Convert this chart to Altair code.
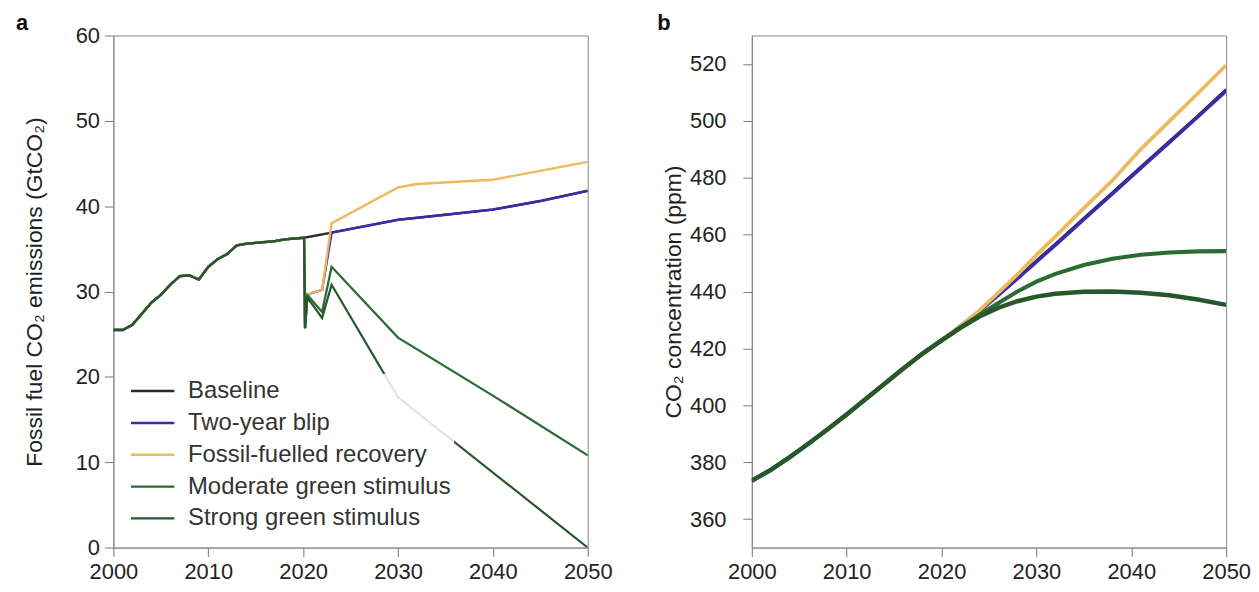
import altair as alt
import pandas as pd

# ---------------- data ----------------
series_names = ["Baseline", "Two-year blip", "Fossil-fuelled recovery",
                "Moderate green stimulus", "Strong green stimulus"]
series_colors = ["#2b2b2b", "#3b2bb0", "#f0b85c", "#2c6b33", "#26582c"]
panel_labels = ["a", "b"]
x_ticks = [2000, 2010, 2020, 2030, 2040, 2050]
y_ticks_a = [0, 10, 20, 30, 40, 50, 60]
y_ticks_b = [360, 380, 400, 420, 440, 460, 480, 500, 520]

# panel a: fossil CO2 emissions (GtCO2)
hist_years = [2000, 2001, 2002, 2003, 2004, 2005, 2006, 2007, 2008, 2009,
              2010, 2011, 2012, 2013, 2014, 2015, 2016, 2017, 2018, 2019]
hist_emis = [25.5, 25.5, 26.1, 27.4, 28.7, 29.6, 30.8, 31.8, 31.9, 31.4,
             32.9, 33.8, 34.4, 35.4, 35.6, 35.7, 35.8, 35.9, 36.1, 36.2]

base_em_years = [2020.1, 2023.0, 2030, 2035, 2040, 2045, 2050]
base_em = [36.3, 36.9, 38.4, 39.0, 39.6, 40.6, 41.8]

blip_em_years = [2020.1, 2020.2, 2020.45, 2020.8, 2022.0, 2023.0, 2030, 2035, 2040, 2045, 2050]
blip_em = [36.3, 25.7, 29.5, 29.8, 30.2, 36.9, 38.4, 39.0, 39.6, 40.6, 41.8]

fossil_em_years = [2020.1, 2020.2, 2020.45, 2020.8, 2022.0, 2023.0, 2030, 2032, 2040, 2050]
fossil_em = [36.3, 25.7, 29.5, 29.8, 30.2, 38.0, 42.2, 42.6, 43.1, 45.2]

moderate_em_years = [2020.1, 2020.2, 2020.45, 2022.0, 2023.0, 2030, 2040, 2050]
moderate_em = [36.3, 25.7, 29.6, 27.6, 32.9, 24.6, 17.8, 10.8]

strong_em_years = [2020.1, 2020.2, 2020.45, 2022.0, 2023.0, 2030, 2050]
strong_em = [36.3, 25.7, 29.3, 26.9, 30.8, 17.6, 0.0]

# panel b: CO2 concentration (ppm)
conc_hist_years = [2000, 2002, 2004, 2006, 2008, 2010, 2012, 2014, 2016, 2018, 2020]
conc_hist = [373.5, 377.3, 381.8, 386.6, 391.6, 396.8, 402.2, 407.6, 413.0, 418.2, 422.8]

conc_future_years = [2022, 2024, 2026, 2028, 2030, 2032, 2035, 2038, 2041, 2044, 2047, 2050]
base_conc = [428.0, 433.3, 439.0, 444.8, 450.8, 456.7, 465.7, 474.7, 483.7, 492.7, 501.7, 511.0]
blip_conc = [427.8, 433.0, 438.7, 444.5, 450.4, 456.3, 465.3, 474.3, 483.3, 492.3, 501.3, 510.5]
fossil_conc = [427.8, 433.4, 439.6, 446.0, 452.8, 459.4, 469.3, 479.0, 490.0, 499.8, 509.6, 519.5]
moderate_conc = [427.4, 431.8, 436.0, 440.0, 443.5, 446.2, 449.3, 451.5, 452.9, 453.7, 454.1, 454.2]
strong_conc = [427.2, 431.2, 434.3, 436.6, 438.2, 439.2, 439.9, 440.0, 439.6, 438.7, 437.2, 435.3]

width_a = [2.5, 2.2, 3.0, 3.0, 3.0]
width_b = [3.0, 4.5, 2.5, 3.0, 3.0]

# ---------------- tables ----------------
em_future = [(base_em_years, base_em), (blip_em_years, blip_em), (fossil_em_years, fossil_em),
             (moderate_em_years, moderate_em), (strong_em_years, strong_em)]
rows_a = []
for i, (name, (fy, fv)) in enumerate(zip(series_names, em_future)):
    ys = hist_years + fy
    vs = hist_emis + fv
    for j, (yr, v) in enumerate(zip(ys, vs)):
        rows_a.append({"series": name, "year": yr, "value": v, "idx": j, "draw": i})
df_a = pd.DataFrame(rows_a)

conc_future = [base_conc, blip_conc, fossil_conc, moderate_conc, strong_conc]
rows_b = []
for i, (name, fv) in enumerate(zip(series_names, conc_future)):
    ys = conc_hist_years + conc_future_years
    vs = conc_hist + fv
    for j, (yr, v) in enumerate(zip(ys, vs)):
        rows_b.append({"series": name, "year": yr, "value": v, "idx": j, "draw": i})
df_b = pd.DataFrame(rows_b)

FONT = "Liberation Sans"
W, H = 477, 515


def x_enc():
    return alt.X("year:Q", scale=alt.Scale(domain=[2000, 2050], nice=False, zero=False),
                 axis=alt.Axis(values=x_ticks, format="d", title=None, labelPadding=5,
                               labelFlush=False))


color_a = alt.Color("series:N", scale=alt.Scale(domain=series_names, range=series_colors),
                    legend=alt.Legend(title=None, orient="none", legendX=14, legendY=340,
                                      symbolType="stroke", symbolStrokeWidth=3, symbolSize=1900,
                                      labelFontSize=24, labelFont=FONT, labelColor="#333",
                                      labelLimit=0, rowPadding=0, clipHeight=31.3,
                                      labelOffset=12, padding=2,
                                      fillColor="rgba(255,255,255,0.85)", strokeColor="transparent"))

lines_a = alt.Chart(df_a).mark_line(clip=True).encode(
    x=x_enc(),
    y=alt.Y("value:Q", scale=alt.Scale(domain=[0, 60], nice=False),
            axis=alt.Axis(values=y_ticks_a, title="Fossil fuel CO\u2082 emissions (GtCO\u2082)",
                          titleX=-79, titleY=H / 2, titleBaseline="middle", titleAlign="center",
                          labelPadding=5, labelFlush=False)),
    color=color_a,
    strokeWidth=alt.StrokeWidth("series:N", scale=alt.Scale(domain=series_names, range=width_a), legend=None),
    detail="draw:O",
    order="idx:Q",
)

label_a = alt.Chart(pd.DataFrame({"label": [panel_labels[0]]})).mark_text(
    align="left", baseline="alphabetic", fontSize=22, fontWeight="bold", font=FONT, color="#111"
).encode(text="label:N", x=alt.value(-98), y=alt.value(-5))

panel_a = alt.layer(lines_a, label_a).properties(width=W, height=H)

lines_b = alt.Chart(df_b).mark_line(clip=True).encode(
    x=x_enc(),
    y=alt.Y("value:Q", scale=alt.Scale(domain=[350, 530], nice=False, zero=False),
            axis=alt.Axis(values=y_ticks_b, title="CO\u2082 concentration (ppm)",
                          titleX=-79, titleY=H / 2, titleBaseline="middle", titleAlign="center",
                          labelPadding=17, labelFlush=False)),
    color=alt.Color("series:N", scale=alt.Scale(domain=series_names, range=series_colors), legend=None),
    strokeWidth=alt.StrokeWidth("series:N", scale=alt.Scale(domain=series_names, range=width_b), legend=None),
    detail="draw:O",
    order="idx:Q",
)

label_b = alt.Chart(pd.DataFrame({"label": [panel_labels[1]]})).mark_text(
    align="left", baseline="alphabetic", fontSize=22, fontWeight="bold", font=FONT, color="#111"
).encode(text="label:N", x=alt.value(-95), y=alt.value(-5))

panel_b = alt.layer(lines_b, label_b).properties(width=W, height=H)

chart = alt.hconcat(panel_a, panel_b, spacing=165, bounds="flush").resolve_scale(
    color="independent", strokeWidth="independent"
).properties(
    padding={"left": 7, "top": 2, "right": 0, "bottom": 0},
    background="white",
).configure_view(
    stroke="#888", strokeWidth=1
).configure_axis(
    domainColor="#888", tickColor="#777", tickWidth=1, tickSize=9, ticks=True, grid=False,
    labelColor="#222", labelFont=FONT, labelFontSize=22,
    titleColor="#222", titleFont=FONT, titleFontSize=23, titleFontWeight="normal",
)

chart.save("out.html", embed_options={"renderer": "svg", "actions": False})
